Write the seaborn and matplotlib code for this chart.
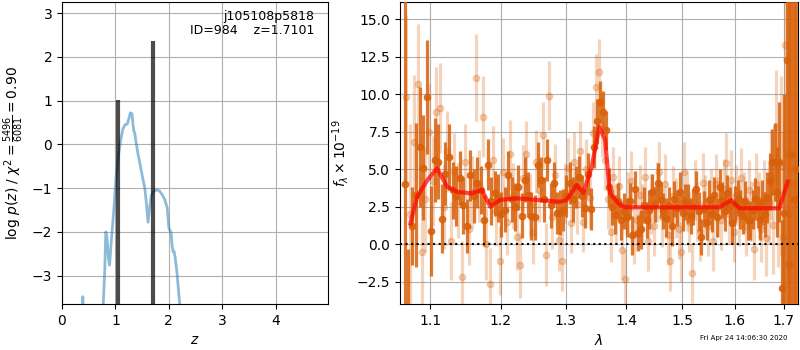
import numpy as np
import pandas as pd
import matplotlib
matplotlib.use("Agg")
import matplotlib.pyplot as plt
import seaborn as sns
from matplotlib.ticker import FormatStrFormatter, NullLocator

# ---------------- data: redshift probability ----------------
pz_z = [0.30, 0.38, 0.39, 0.40, 0.55, 0.73, 0.77, 0.80, 0.82, 0.84, 0.87, 0.89,
        0.93, 0.97, 1.01, 1.05, 1.10, 1.14, 1.18, 1.22, 1.25, 1.28, 1.31, 1.33,
        1.345, 1.36, 1.38, 1.42, 1.46, 1.50, 1.55, 1.58, 1.61, 1.64, 1.67, 1.72,
        1.77, 1.82, 1.86, 1.92, 1.97, 2.00, 2.02, 2.04, 2.06, 2.08, 2.10, 2.12,
        2.15, 2.20, 2.25, 2.50, 3.50, 4.98]
pz_logp = [-8, -6, -3.48, -6, -9, -6, -3.7, -2.9, -2.0, -2.1, -2.6, -2.76,
           -2.1, -1.5, -0.8, -0.3, 0.1, 0.35, 0.45, 0.46, 0.58, 0.72, 0.70, 0.45,
           0.30, 0.27, 0.10, -0.2, -0.45, -0.7, -1.0, -1.35, -1.78, -1.45, -1.17, -1.07,
           -1.04, -1.06, -1.12, -1.25, -1.45, -1.9, -1.97, -2.0, -2.3, -2.45, -2.45, -2.6,
           -2.9, -3.6, -4.5, -8, -20, -40]
peak_z = [1.05, 1.71]
peak_h = [1.01, 2.36]

# ---------------- data: spectrum ----------------
dark_wave = [1.066, 1.071, 1.076, 1.081, 1.086, 1.091, 1.096, 1.101, 1.106, 1.111,
             1.116, 1.121, 1.126, 1.131, 1.136, 1.141, 1.146, 1.151, 1.156, 1.161,
             1.166, 1.171, 1.176, 1.181, 1.186, 1.191, 1.196, 1.201, 1.206, 1.211,
             1.216, 1.221, 1.226, 1.231, 1.236, 1.241, 1.246, 1.251, 1.256, 1.261,
             1.266, 1.271, 1.276, 1.281, 1.286, 1.291, 1.296, 1.301, 1.306, 1.311,
             1.316, 1.321, 1.326, 1.331, 1.336, 1.341, 1.346, 1.351, 1.356, 1.361,
             1.366, 1.371, 1.376, 1.381, 1.386, 1.391, 1.396, 1.401, 1.406, 1.411,
             1.416, 1.421, 1.426, 1.431, 1.436, 1.441, 1.446, 1.451, 1.456, 1.461,
             1.466, 1.471, 1.476, 1.481, 1.486, 1.491, 1.496, 1.501, 1.506, 1.511,
             1.516, 1.521, 1.526, 1.531, 1.536, 1.541, 1.546, 1.551, 1.556, 1.561,
             1.566, 1.571, 1.576, 1.581, 1.586, 1.591, 1.596, 1.601, 1.606, 1.611,
             1.616, 1.621, 1.626, 1.631, 1.636, 1.641, 1.646, 1.651, 1.656, 1.661,
             1.666, 1.671, 1.676, 1.681, 1.686, 1.691, 1.696, 1.701, 1.706, 1.711,
             1.716, 1.721, 1.726]
dark_flux = [4.0, -6.0, 1.2, 3.3, 6.5, 5.1, 9.8, 0.9, 5.6, 5.5,
             1.7, 4.7, 5.8, 3.6, 3.2, 4.4, 2.6, 1.2, 4.6, 3.2,
             4.1, 3.6, 1.6, 5.3, 2.9, 3.4, 3.1, 2.0, 2.3, 4.6,
             3.0, 2.5, 3.8, 1.9, 4.3, 3.3, 1.9, 1.8, 5.3, 4.3,
             3.0, 5.6, 2.6, 4.1, 2.1, 2.1, 2.3, 3.2, 4.1, 3.0,
             3.8, 4.5, 3.2, 2.4, 4.7, 2.35, 6.5, 8.2, 9.5, 8.8,
             7.6, 3.8, 2.5, 1.95, 2.9, 1.6, 2.2, 1.8, 2.9, 0.6,
             3.7, 0.75, 1.0, 2.6, 1.6, 2.3, 3.5, 2.7, 4.1, 2.95,
             2.2, 1.75, 2.6, 1.2, 3.0, 2.4, 3.5, 2.1, 2.8, 2.7,
             1.9, 2.5, 3.7, 2.2, 0.5, 2.35, 1.5, 2.95, 2.0, 3.3,
             1.8, 3.8, 2.95, 2.2, 3.4, 2.6, 1.4, 2.7, 3.1, 2.3,
             1.9, 2.9, 1.6, 1.6, 2.3, 3.0, 2.5, 1.7, 2.8, 2.0,
             3.1, 4.2, 5.5, 5.5, 3.5, 5.5, -2.9, 2.05, 12.3, -1.3,
             6.0, 3.0, 5.0]
dark_err = [40, 5.7, 2.6, 4.8, 4.0, 3.5, 3.8, 3.0, 2.8, 2.5,
            2.3, 2.1, 2.2, 1.9, 2.0, 1.8, 1.9, 1.8, 1.7, 1.8,
            1.7, 1.6, 1.7, 1.7, 1.6, 1.5, 1.6, 1.5, 1.5, 1.6,
            1.5, 1.6, 1.5, 1.5, 1.5, 1.5, 1.6, 1.5, 1.5, 1.5,
            1.5, 1.4, 1.5, 1.4, 1.4, 1.5, 1.4, 1.4, 1.4, 1.5,
            1.4, 1.4, 1.4, 1.3, 1.4, 1.4, 1.4, 1.5, 1.4, 1.4,
            1.3, 1.3, 1.2, 1.3, 1.2, 1.3, 1.2, 1.3, 1.2, 1.3,
            1.2, 1.2, 1.3, 1.2, 1.2, 1.3, 1.2, 1.2, 1.3, 1.2,
            1.2, 1.3, 1.2, 1.3, 1.2, 1.2, 1.3, 1.2, 1.2, 1.3,
            1.2, 1.2, 1.2, 1.3, 1.2, 1.2, 1.2, 1.3, 1.2, 1.2,
            1.3, 1.2, 1.2, 1.3, 1.2, 1.2, 1.3, 1.2, 1.2, 1.3,
            1.2, 1.3, 1.3, 1.3, 1.3, 1.4, 1.4, 1.4, 1.5, 1.5,
            1.7, 1.9, 2.2, 2.6, 3.0, 4.0, 4.5, 8.0, 30, 40,
            40, 40, 40]

light_wave = [1.0685, 1.0735, 1.0785, 1.0835, 1.0885, 1.0935, 1.0985, 1.1035, 1.1085, 1.1135,
              1.1185, 1.1235, 1.1285, 1.1335, 1.1385, 1.1435, 1.1485, 1.1535, 1.1585, 1.1635,
              1.1685, 1.1735, 1.1785, 1.1835, 1.1885, 1.1935, 1.1985, 1.2035, 1.2085, 1.2135,
              1.2185, 1.2235, 1.2285, 1.2335, 1.2385, 1.2435, 1.2485, 1.2535, 1.2585, 1.2635,
              1.2685, 1.2735, 1.2785, 1.2835, 1.2885, 1.2935, 1.2985, 1.3035, 1.3085, 1.3135,
              1.3185, 1.3235, 1.3285, 1.3335, 1.3385, 1.3435, 1.3485, 1.3535, 1.3585, 1.3635,
              1.3685, 1.3735, 1.3785, 1.3835, 1.3885, 1.3935, 1.3985, 1.4035, 1.4085, 1.4135,
              1.4185, 1.4235, 1.4285, 1.4335, 1.4385, 1.4435, 1.4485, 1.4535, 1.4585, 1.4635,
              1.4685, 1.4735, 1.4785, 1.4835, 1.4885, 1.4935, 1.4985, 1.5035, 1.5085, 1.5135,
              1.5185, 1.5235, 1.5285, 1.5335, 1.5385, 1.5435, 1.5485, 1.5535, 1.5585, 1.5635,
              1.5685, 1.5735, 1.5785, 1.5835, 1.5885, 1.5935, 1.5985, 1.6035, 1.6085, 1.6135,
              1.6185, 1.6235, 1.6285, 1.6335, 1.6385, 1.6435, 1.6485, 1.6535, 1.6585, 1.6635,
              1.6685, 1.6735, 1.6785, 1.6835, 1.6885, 1.6935, 1.6985, 1.7035, 1.7085, 1.7135,
              1.7185, 1.7235]
light_flux = [9.8, 2.0, 6.8, 10.7, -0.5, 3.0, 7.5, 4.2, 8.8, 9.1,
              2.5, 6.2, 0.2, 4.8, 2.9, -2.2, 5.5, 1.0, 3.5, 11.1,
              3.9, 8.5, 0.0, -2.65, 5.6, 2.2, -1.1, 4.8, 1.5, 6.0,
              3.2, 0.5, -1.4, 4.4, 6.0, 2.6, 0.8, 5.5, 3.6, 7.3,
              -0.7, 9.9, 1.8, 4.6, 0.3, -1.1, 3.4, 5.1, 1.4, 5.5,
              2.7, 6.2, 1.5, 5.0, 3.1, 7.4, 10.5, 11.5, 7.9, 5.6,
              3.0, 0.8, 4.5, 2.0, 3.9, -0.4, -2.3, 2.8, 4.2, 0.7,
              1.6, 3.3, 2.0, 4.5, 0.2, 2.7, 1.2, 3.5, 4.8, 1.8,
              4.0, 0.6, -1.1, 3.2, 2.4, 1.0, -0.5, 4.8, 2.9, 1.5,
              -1.9, 3.6, 2.2, 0.9, 4.1, 2.6, 1.2, 3.0, 0.2, 4.0,
              2.5, 1.6, 3.7, 5.4, 2.0, 4.3, 0.8, 3.3, 1.9, 4.4,
              2.8, 1.2, 3.6, 2.2, -0.3, 4.0, 2.6, 1.0, 3.3, 0.4,
              2.8, 4.6, 1.3, 7.8, 3.0, 5.2, 0.5, 13.3, 6.0, 2.0,
              4.0, 3.0]
light_err = [5.5, 6.0, 4.5, 4.0, 4.0, 3.5, 3.2, 3.0, 3.0, 3.0,
             2.8, 2.7, 2.6, 2.6, 2.5, 2.4, 2.5, 2.4, 2.4, 2.9,
             2.4, 2.7, 2.4, 2.4, 2.3, 2.3, 2.3, 2.3, 2.2, 2.3,
             2.2, 2.2, 2.2, 2.2, 2.2, 2.1, 2.1, 2.1, 2.1, 2.2,
             2.1, 2.3, 2.1, 2.1, 2.1, 2.0, 2.0, 2.0, 2.0, 2.0,
             2.0, 2.0, 2.0, 2.0, 2.0, 2.1, 2.2, 2.2, 2.1, 2.0,
             2.0, 2.0, 2.0, 2.0, 2.0, 2.0, 2.0, 2.0, 2.0, 2.0,
             2.0, 2.0, 2.0, 2.0, 2.0, 2.0, 2.0, 2.0, 2.0, 2.0,
             2.0, 2.0, 2.0, 2.0, 2.0, 2.0, 2.0, 2.0, 2.0, 2.0,
             2.0, 2.0, 2.0, 2.0, 2.0, 2.0, 2.0, 2.0, 2.0, 2.0,
             2.0, 2.0, 2.0, 2.0, 2.0, 2.0, 2.0, 2.0, 2.0, 2.0,
             2.0, 2.0, 2.0, 2.0, 2.1, 2.1, 2.2, 2.2, 2.3, 2.5,
             2.7, 3.0, 3.3, 3.8, 4.5, 6.0, 7.0, 8.0, 12, 15,
             40, 40]

model_wave = [1.0737, 1.0826, 1.0964, 1.1095, 1.1232, 1.1371, 1.1560, 1.1725, 1.1845, 1.1992,
              1.2241, 1.2907, 1.3014, 1.3176, 1.3284, 1.3421, 1.3547, 1.3643, 1.3726, 1.3896,
              1.4000, 1.5708, 1.5936, 1.6098, 1.6907, 1.7081]
model_flux = [1.39, 3.17, 4.28, 5.06, 3.83, 3.50, 3.39, 3.61, 2.50, 2.95,
              3.06, 2.83, 2.95, 3.95, 3.43, 5.17, 7.83, 6.95, 3.39, 2.61,
              2.46, 2.46, 2.95, 2.40, 2.40, 4.17]

wave_ticks = [1.1, 1.2, 1.3, 1.4, 1.5, 1.6, 1.7]
flux_ticks = [-2.5, 0.0, 2.5, 5.0, 7.5, 10.0, 12.5, 15.0]

title_text = "j105108p5818\nID=984    z=1.7101"
stamp_text = "Fri Apr 24 14:06:30 2020"

# ---------------- figure ----------------
fig = plt.figure(figsize=(8, 3.5), dpi=100)
ax1 = fig.add_axes([0.0775, 0.131, 0.3325, 0.863])
ax2 = fig.add_axes([0.5, 0.131, 0.4975, 0.863])

pz_df = pd.DataFrame({"z": pz_z, "logp": pz_logp})
sns.lineplot(data=pz_df, x="z", y="logp", ax=ax1, color="tab:blue", alpha=0.5,
             lw=2, sort=False, estimator=None)
ax1.vlines(peak_z, -10, peak_h, color="k", alpha=0.7, lw=3)
ax1.set_xlim(0, 4.98)
ax1.set_ylim(-3.65, 3.25)
ax1.set_xticks([0, 1, 2, 3, 4])
ax1.grid(True)
ax1.set_xlabel(r"$z$")
ax1.set_ylabel(r"log $p(z)$ / $\chi^2=\frac{5496}{6081}=0.90$")
ax1.text(0.95, 0.975, title_text, transform=ax1.transAxes, ha="right", va="top",
         fontsize=9, linespacing=1.1)

orange = "#d9600a"
ax2.errorbar(light_wave, light_flux, yerr=light_err, fmt="o", color=orange,
             alpha=0.27, ms=4.5, elinewidth=2.3, capsize=0, zorder=2)
ax2.errorbar(dark_wave, dark_flux, yerr=dark_err, fmt="o", color=orange,
             alpha=0.85, ms=4.5, elinewidth=2.3, capsize=0, zorder=3)
model_df = pd.DataFrame({"wave": model_wave, "flux": model_flux})
sns.lineplot(data=model_df, x="wave", y="flux", ax=ax2, color="red", alpha=0.7,
             lw=3, sort=False, estimator=None, zorder=4)
ax2.axhline(0, color="k", ls=":", lw=1.5, zorder=5)
ax2.set_xscale("log")
ax2.set_xlim(1.06, 1.73)
ax2.set_ylim(-4.0, 16.15)
ax2.set_xticks(wave_ticks)
ax2.xaxis.set_major_formatter(FormatStrFormatter("%.1f"))
ax2.xaxis.set_minor_locator(NullLocator())
ax2.set_yticks(flux_ticks)
ax2.grid(True)
ax2.set_xlabel(r"$\lambda$")
ax2.set_ylabel(r"$f_\lambda\times10^{-19}$")

fig.text(0.984, 0.025, stamp_text, ha="right", va="bottom", fontsize=5)

fig.savefig("out.png", dpi=100)
